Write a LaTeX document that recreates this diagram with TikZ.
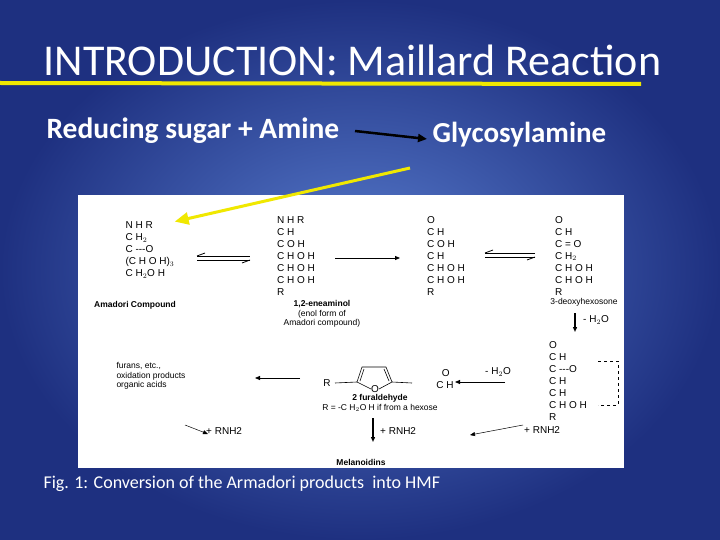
\documentclass[tikz,border=0pt]{standalone}
\usepackage{fontspec}
\setmainfont{Carlito}
\newfontfamily\chemfont{Liberation Sans}
\usetikzlibrary{arrows.meta,positioning}
\definecolor{slideblue}{RGB}{88,124,206}
\definecolor{slidedark}{RGB}{30,48,128}
\definecolor{marker}{RGB}{240,232,0}
\tikzset{
  chem/.style={font=\chemfont\fontsize{10}{12}\selectfont, align=left, inner sep=0pt},
  chemlbl/.style={font=\chemfont\fontsize{8.5}{9.5}\selectfont, align=center, inner sep=0pt},
  rxn/.style={-{Triangle[length=5pt,width=4pt]}, line width=0.8pt, black},
  eqm/.style={line width=0.8pt, black},
}
\begin{document}
\begin{tikzpicture}[x=1pt, y=-1pt]
\useasboundingbox (0,0) rectangle (720,540);
\shade[inner color=slideblue, outer color=slidedark] (0,0) rectangle (720,540);
% heading
\node[font=\fontsize{44}{47}\selectfont, text=white, anchor=west] (title) at (40,60) {INTRODUCTION: Maillard Reaction};
\draw[marker, line width=4pt] (0,83) -- (641,84);
\node[font=\bfseries\fontsize{29.5}{32}\selectfont, text=white, anchor=west] (sugar) at (43,131) {Reducing sugar + Amine};
\node[font=\bfseries\fontsize{29}{32}\selectfont, text=white, anchor=west] (glyc) at (429,135) {Glycosylamine};
\draw[-{Triangle[length=9pt,width=8pt]}, line width=2.5pt, black] (355,131) -- ([xshift=-2pt,yshift=-4pt]glyc.west);
% figure
\fill[white] (78,195) rectangle (624,468);
\node[chem] (amadori) at (150,250) {N H R\\ C H$_2$\\ C ---O\\ (C H O H)$_3$\\ C H$_2$O H};
\node[chemlbl, font=\chemfont\fontsize{8.5}{9.5}\selectfont\bfseries] (lamad) at (135,305) {Amadori Compound};
\node[chem] (enol) at (296,256) {N H R\\ C H\\ C O H\\ C H O H\\ C H O H\\ C H O H\\ R};
\node[chemlbl] (lenol) at (322,314) {\textbf{1,2-eneaminol}\\(enol form of\\Amadori compound)};
\node[chem] (dicarb) at (446,256) {O\\ C H\\ C O H\\ C H\\ C H O H\\ C H O H\\ R};
\node[chem] (deoxy) at (574,256) {O\\ C H\\ C = O\\ C H$_2$\\ C H O H\\ C H O H\\ R};
\node[chemlbl] (ldeoxy) at (584,302) {3-deoxyhexosone};
\draw[eqm] (197,256) -- (250,256);
\draw[eqm] (197,260) -- (250,260);
\draw[eqm] (197,256) -- (205,253);
\draw[eqm] (250,260) -- (242,263);
\draw[rxn] (335,258) -- (400,258);
\draw[eqm] (485,253) -- (535,253);
\draw[eqm] (485,257) -- (535,257);
\draw[eqm] (485,253) -- (493,250);
\draw[eqm] (535,257) -- (527,260);
\draw[rxn, line width=1.5pt] (575,313) -- (575,332);
\node[chem, anchor=west] (lh1) at (583,320) {- H$_2$O};
\node[chem] (ene) at (568,381) {O\\ C H\\ C ---O\\ C H\\ C H\\ C H O H\\ R};
\draw[dashed, line width=0.6pt] (598,361) -- (618,361) -- (618,405) -- (598,405);
\draw[rxn] (505,382) -- (455,382);
\node[chem, anchor=west] (lh2) at (485,372) {- H$_2$O};
% furan ring
\node[chem] (r) at (327,383) {R};
\node[chem] (ringo) at (375,389) {O};
\draw[line width=0.6pt] (335,383) -- (357,382) -- (362,367) -- (386,367) -- (392,382) -- (412,383);
\draw[line width=0.6pt] (357,382) -- (371,389) (379,389) -- (392,382);
\draw[line width=0.6pt] (364,369) -- (360,381) (384,369) -- (389,381);
\node[chem] (cho) at (445,379) {\ \ O\\ C H};
\node[chemlbl] (lfur) at (380,403) {\textbf{2 furaldehyde}\\ R = -C H$_2$O H  if from a hexose};
\draw[rxn] (300,378) -- (255,378);
\node[chem, font=\chemfont\fontsize{8.5}{9.5}\selectfont] (furans) at (151,376) {furans, etc.,\\ oxidation products\\ organic acids};
\draw[rxn, line width=0.5pt] (185,425) -- (208,434);
\node[chem, anchor=west] (rn1) at (206,431) {+ RNH2};
\draw[rxn, line width=1.5pt] (373,418) -- (373,442);
\node[chem, anchor=west] (rn2) at (380,431) {+ RNH2};
\draw[rxn, line width=0.5pt] (523,425) -- (470,435);
\node[chem, anchor=west] (rn3) at (524,430) {+ RNH2};
\node[chemlbl, font=\chemfont\fontsize{8.5}{9.5}\selectfont\bfseries] (melan) at (361,462) {Melanoidins};
\node[font=\fontsize{18}{20}\selectfont, text=white, anchor=west] (cap) at (40,484) {Fig. 1: Conversion of the Armadori products\ \ into HMF};
% pointer
\draw[-{Triangle[length=14pt,width=12pt]}, marker, line width=3pt] (410,168) -- (amadori.north east);
\end{tikzpicture}
\end{document}
